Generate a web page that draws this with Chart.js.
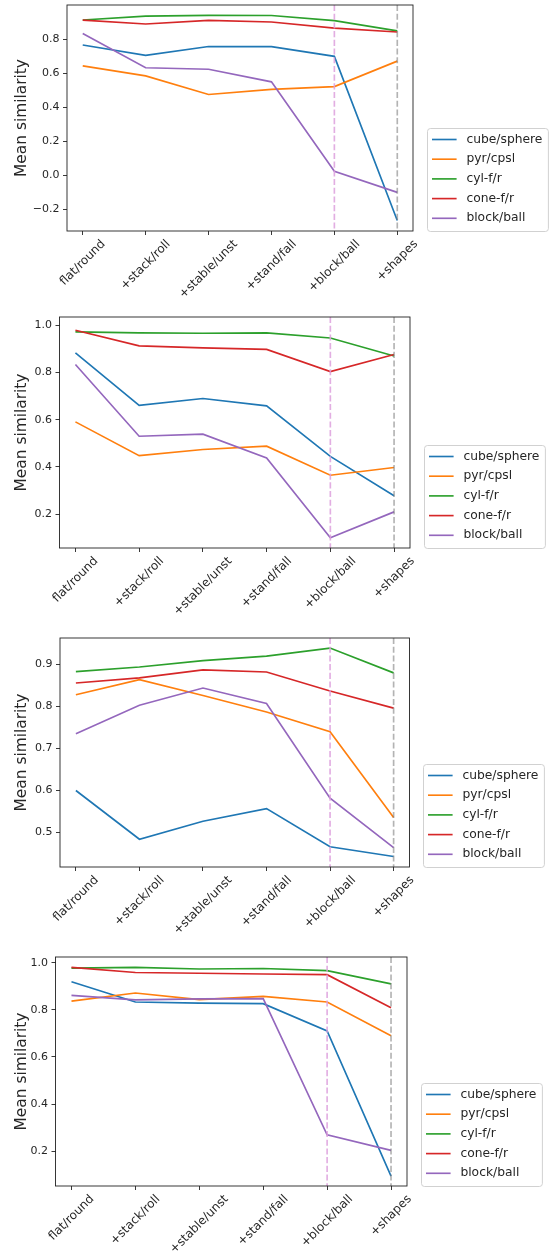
<!DOCTYPE html>
<html>
<head>
<meta charset="utf-8">
<script src="https://cdn.jsdelivr.net/npm/chart.js@4.4.0/dist/chart.umd.min.js"></script>
<style>
  html, body { margin: 0; padding: 0; background: #fff; }
  body { width: 551px; height: 1258px; position: relative; overflow: hidden; }
  canvas { position: absolute; left: 0; }
</style>
</head>
<body>
<canvas id="c1"></canvas>
<canvas id="c2"></canvas>
<canvas id="c3"></canvas>
<canvas id="c4"></canvas>
<script>
// data, one block per panel
const categories = ['flat/round', '+stack/roll', '+stable/unst', '+stand/fall', '+block/ball', '+shapes'];
const seriesNames = ['cube/sphere', 'pyr/cpsl', 'cyl-f/r', 'cone-f/r', 'block/ball'];

// rows: cube/sphere, pyr/cpsl, cyl-f/r, cone-f/r, block/ball
const panel1 = [
  [0.767, 0.706, 0.758, 0.757, 0.700, -0.265],
  [0.644, 0.585, 0.476, 0.506, 0.522, 0.672],
  [0.914, 0.937, 0.941, 0.940, 0.910, 0.850],
  [0.913, 0.890, 0.912, 0.902, 0.866, 0.843],
  [0.834, 0.633, 0.624, 0.550, 0.024, -0.100]
];
const panel2 = [
  [0.883, 0.661, 0.690, 0.659, 0.445, 0.278],
  [0.591, 0.448, 0.474, 0.488, 0.365, 0.398],
  [0.972, 0.968, 0.966, 0.968, 0.946, 0.870],
  [0.979, 0.913, 0.904, 0.898, 0.804, 0.876],
  [0.834, 0.530, 0.539, 0.438, 0.100, 0.210]
];
const panel3 = [
  [0.600, 0.484, 0.527, 0.557, 0.466, 0.443],
  [0.828, 0.864, 0.826, 0.787, 0.740, 0.536],
  [0.883, 0.894, 0.909, 0.920, 0.939, 0.880],
  [0.856, 0.868, 0.887, 0.882, 0.837, 0.796],
  [0.735, 0.803, 0.844, 0.807, 0.582, 0.464]
];
const panel4 = [
  [0.919, 0.833, 0.828, 0.826, 0.710, 0.094],
  [0.837, 0.871, 0.843, 0.857, 0.833, 0.690],
  [0.977, 0.980, 0.973, 0.975, 0.966, 0.910],
  [0.980, 0.958, 0.955, 0.952, 0.949, 0.809],
  [0.861, 0.842, 0.846, 0.847, 0.269, 0.203]
];

const yTicks1 = [-0.2, 0.0, 0.2, 0.4, 0.6, 0.8];
const yTicks2 = [0.2, 0.4, 0.6, 0.8, 1.0];
const yTicks3 = [0.5, 0.6, 0.7, 0.8, 0.9];
const yTicks4 = [0.2, 0.4, 0.6, 0.8, 1.0];

const yLim1 = [-0.327, 1.002];
const yLim2 = [0.057, 1.035];
const yLim3 = [0.418, 0.963];
const yLim4 = [0.052, 1.024];

// vertical markers: x index of each dashed line
const markerX = [4, 5];

const colors = ['#1f77b4', '#ff7f0e', '#2ca02c', '#d62728', '#9467bd'];
const markerColors = ['rgba(221,160,221,0.85)', 'rgba(128,128,128,0.6)'];
const FONT = '"DejaVu Sans", sans-serif';
const TXT = '#262626';

// axes box on the page: left, right, top, bottom
const boxes = [
  [67, 413, 5, 231],
  [59.5, 410, 317, 548],
  [60, 409.5, 638, 867],
  [55.5, 407, 957, 1186]
];

function fmt(v){
  return (v < 0 ? '\u2212' : '') + Math.abs(v).toFixed(1);
}

// dashed vertical lines + the 4-sided frame
const axesDeco = {
  id: 'axesDeco',
  afterDatasetsDraw(chart){
    const ctx = chart.ctx, a = chart.chartArea, xs = chart.scales.x;
    ctx.save();
    ctx.lineWidth = 1.65;
    ctx.setLineDash([6.1, 2.6]);
    markerX.forEach((v, i) => {
      const px = xs.getPixelForValue(v);
      ctx.strokeStyle = markerColors[i];
      ctx.beginPath();
      ctx.moveTo(px, a.top);
      ctx.lineTo(px, a.bottom);
      ctx.stroke();
    });
    ctx.setLineDash([]);
    ctx.strokeStyle = '#222';
    ctx.lineWidth = 0.9;
    ctx.strokeRect(a.left, a.top, a.right - a.left, a.bottom - a.top);
    ctx.restore();
  }
};

// rotated category labels, centered on the tick like matplotlib ha='center'
const xLabels = {
  id: 'xLabels',
  afterDraw(chart){
    const ctx = chart.ctx, a = chart.chartArea, xs = chart.scales.x;
    const fs = 12, h = fs * 1.0;
    ctx.save();
    ctx.font = fs + 'px ' + FONT;
    ctx.fillStyle = TXT;
    ctx.textAlign = 'center';
    ctx.textBaseline = 'middle';
    categories.forEach((c, i) => {
      const w = ctx.measureText(c).width;
      const bb = (w + h) * Math.SQRT1_2;
      const px = xs.getPixelForValue(i);
      const py = a.bottom + 7 + bb / 2;
      ctx.save();
      ctx.translate(px, py);
      ctx.rotate(-Math.PI / 4);
      ctx.fillText(c, 0, 0);
      ctx.restore();
    });
    ctx.restore();
  }
};

// legend outside the axes, lower left anchored to the axes bottom
const sideLegend = {
  id: 'sideLegend',
  afterDraw(chart){
    const ctx = chart.ctx, a = chart.chartArea;
    const fs = 12.3;
    ctx.save();
    ctx.font = fs + 'px ' + FONT;
    const maxW = Math.max(...chart.data.datasets.map(d => ctx.measureText(d.label).width));
    const bw = 4.5 + 24.6 + 9.8 + maxW + 6;
    const bh = 103;
    const x0 = Math.round(a.right + 13.5) + 0.5;
    const y0 = Math.round(a.bottom - bh) + 0.5;
    ctx.beginPath();
    ctx.roundRect(x0, y0, bw, bh, 3);
    ctx.fillStyle = 'rgba(255,255,255,0.8)';
    ctx.fill();
    ctx.strokeStyle = '#cccccc';
    ctx.lineWidth = 0.9;
    ctx.stroke();
    ctx.textBaseline = 'middle';
    ctx.textAlign = 'left';
    chart.data.datasets.forEach((d, k) => {
      const y = y0 + 11 + k * 19.7;
      ctx.strokeStyle = d.borderColor;
      ctx.lineWidth = 1.65;
      ctx.beginPath();
      ctx.moveTo(x0 + 4.5, y);
      ctx.lineTo(x0 + 29.1, y);
      ctx.stroke();
      ctx.fillStyle = TXT;
      ctx.fillText(d.label, x0 + 38.9, y);
    });
    ctx.restore();
  }
};

function makeChart(id, values, ticks, lim, box){
  const [L, R, T, B] = box;
  const canvas = document.getElementById(id);
  const top = T - 20;
  const bottomSpace = 90;
  const H = Math.round(B - top + bottomSpace);
  canvas.width = 551;
  canvas.height = H;
  canvas.style.top = top + 'px';

  const datasets = values.map((v, i) => ({
    label: seriesNames[i],
    data: v.map((y, x) => ({ x: x, y: y })),
    borderColor: colors[i],
    borderWidth: 1.65,
    pointRadius: 0,
    tension: 0,
    fill: false,
    order: values.length - 1 - i
  }));

  new Chart(canvas, {
    type: 'line',
    data: { datasets },
    options: {
      responsive: false,
      animation: false,
      devicePixelRatio: 1,
      layout: { padding: { top: 20, left: 0, right: 551 - R, bottom: 0 } },
      plugins: { legend: { display: false }, tooltip: { enabled: false } },
      scales: {
        x: {
          type: 'linear',
          min: -0.25,
          max: 5.25,
          afterBuildTicks: s => { s.ticks = categories.map((c, i) => ({ value: i })); },
          ticks: { display: false },
          grid: { drawOnChartArea: false, drawTicks: true, tickLength: 4, color: '#222', tickColor: '#222', tickWidth: 0.9 },
          border: { display: false },
          afterFit: s => { s.height = H - (B - top); s.paddingLeft = 0; s.paddingRight = 0; }
        },
        y: {
          min: lim[0],
          max: lim[1],
          afterBuildTicks: s => { s.ticks = ticks.map(v => ({ value: v })); },
          ticks: {
            font: { family: FONT, size: 11 },
            color: TXT,
            padding: 3.5,
            callback: v => fmt(v)
          },
          grid: { drawOnChartArea: false, drawTicks: true, tickLength: 4, color: '#222', tickColor: '#222', tickWidth: 0.9 },
          border: { display: false },
          title: {
            display: true,
            text: 'Mean similarity',
            font: { family: FONT, size: 15.4 },
            color: TXT,
            padding: { top: 13, bottom: 0 }
          },
          afterFit: s => { s.width = L; s.paddingTop = 0; s.paddingBottom = 0; }
        }
      }
    },
    plugins: [axesDeco, xLabels, sideLegend]
  });
}

makeChart('c1', panel1, yTicks1, yLim1, boxes[0]);
makeChart('c2', panel2, yTicks2, yLim2, boxes[1]);
makeChart('c3', panel3, yTicks3, yLim3, boxes[2]);
makeChart('c4', panel4, yTicks4, yLim4, boxes[3]);
</script>
</body>
</html>
